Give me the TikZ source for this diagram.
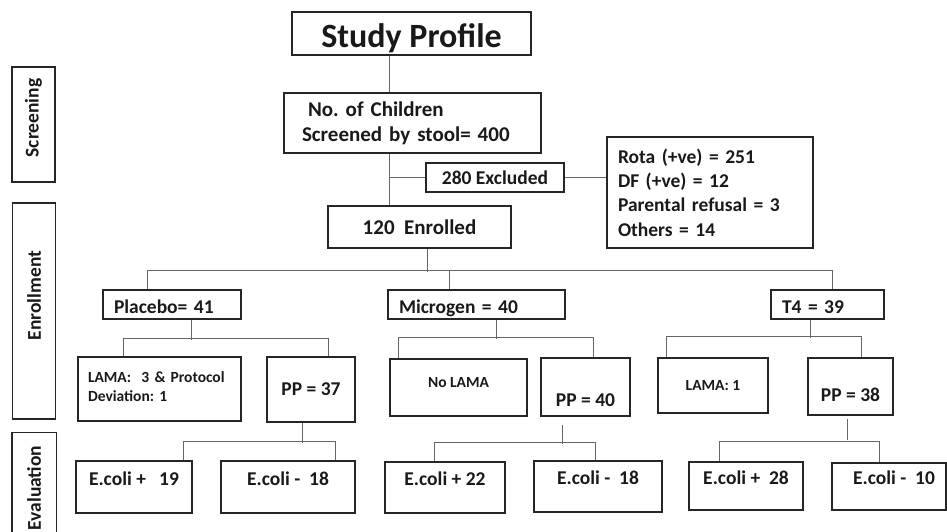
\documentclass[tikz,border=0pt]{standalone}
\usepackage{fontspec}
\setmainfont{Carlito}
\frenchspacing
\usetikzlibrary{positioning}

\begin{document}
\begin{tikzpicture}[
      x=1pt,y=-1pt,
      box/.style={
          draw=black!85,
          line width=1.3pt,
          inner sep=0pt,
          text=black!90,
          font=\fontsize{19.5}{24}\selectfont\bfseries
        },
      size/.style 2 args={
          minimum width=#1pt,
          minimum height=#2pt
        },
      small/.style={
          font=\fontsize{15.5}{19}\selectfont\bfseries
        },
      arm/.style={
          align=left,
          inner xsep=11pt,
          text height=17pt,
          text depth=0pt
        },
      ecoli/.style={
          box,
          text height=14pt,
          text depth=18pt
        },
      phase/.style={
          box,
          rotate=90,
          minimum height=43pt
        },
      link/.style={
          draw=black!60,
          line width=0.9pt
        }
    ]
    \useasboundingbox (0,0) rectangle (947,532);

    % phases on the left
    \node[phase, minimum width=115pt] (screen) at (33.5,124.5) {\hspace*{13pt}Screening};
    \node[phase, minimum width=216pt] (enrollment) at (34,311) {\hspace*{31pt}Enrollment};
    \node[phase, draw=none, minimum width=110pt] (evaluation) at (34,488) {Evaluation};
    \draw[black!85, line width=1.3pt] (evaluation.north west) -- (evaluation.north east)
      -- (evaluation.south east) -- (evaluation.south west);

    % screening
    \node[box, size={239}{43}, font=\fontsize{34}{40}\selectfont\bfseries,
      text height=29pt, text depth=0pt] (title) at (411.5,33.5) {Study Profile};
    \node[box, size={257}{60}, align=left, text width=221pt,
      font=\fontsize{21}{25}\selectfont\bfseries] (children) at (412.5,123)
      {\hspace*{6pt}No. of Children\\Screened by stool= 400};
    \node[box, size={138}{29}] (excl) at (495,177.5) {280 Excluded};
    \node[box, size={206}{111}, align=left, text width=184pt,
      font=\fontsize{19.5}{24.3}\selectfont\bfseries] (reasons) at (710,192.5)
      {Rota (+ve) = 251\\DF (+ve) = 12\\Parental refusal = 3\\Others = 14};
    \node[box, size={183}{42}, font=\fontsize{21}{25}\selectfont\bfseries] (enrol) at (419.5,227) {120 \ Enrolled};

    % enrollment
    \node[box, arm, size={138}{29}, text width=116pt] (placebo) at (172,304.5) {Placebo= 41};
    \node[box, arm, size={177}{29}, text width=155pt] (microgen) at (476.5,304.5) {Microgen = 40};
    \node[box, arm, size={113}{29}, text width=91pt] (tfour) at (827.5,304.5) {T4 = 39};

    \node[box, small, size={163}{64}, align=left, text width=143pt, inner xsep=10pt,
      text height=10pt, text depth=24pt] (lamaA) at (159.5,389) {LAMA:\ \ 3 \& Protocol\\Deviation: 1};
    \node[box, size={88}{65}] (ppA) at (311,389.5) {PP = 37};
    \node[box, small, size={137}{57}, text height=11pt, text depth=11pt] (nolama) at (458.5,387.5) {No LAMA};
    \node[box, size={89}{58}, text height=43pt, text depth=5pt] (ppB) at (585.5,387) {PP = 40};
    \node[box, small, size={110}{55}] (lamaC) at (713,385.5) {LAMA: 1};
    \node[box, size={85}{57}, text height=34pt, text depth=5pt] (ppC) at (850.5,386.5) {PP = 38};

    % evaluation
    \node[ecoli, size={116}{52}] (ecpA) at (134,487) {E.coli + \ \ 19};
    \node[ecoli, size={134}{52}] (ecmA) at (288,487) {E.coli - \ 18};
    \node[ecoli, size={120}{51}] (ecpB) at (445,487.5) {E.coli + 22};
    \node[ecoli, size={128}{51}] (ecmB) at (598,486.5) {E.coli - \ 18};
    \node[ecoli, size={114}{48}] (ecpC) at (746,486) {E.coli + \ 28};
    \node[ecoli, size={114}{47}] (ecmC) at (889,486.5) {\hspace*{10pt}E.coli - \ 10};

    % connectors
    \coordinate (trunk) at (389,0);
    \draw[link] (title.south -| trunk) -- (children.north -| trunk);
    \draw[link] (children.south -| trunk) -- (enrol.north -| trunk);
    \draw[link] (excl.west) -- (excl.west -| trunk);
    \draw[link] (excl.east) -- (excl.east -| reasons.west);

    \draw[link] ([xshift=7.5pt]enrol.south) -- ++(0,23);
    \draw[link] ([xshift=-25pt]placebo.north) -- ++(0,-19) -| ([xshift=4.5pt]tfour.north);
    \draw[link] ([xshift=-27.5pt]microgen.north) -- ++(0,-19);

    \draw[link] ([xshift=19pt]placebo.south) -- ++(0,20);
    \draw[link] ([xshift=-36.5pt]lamaA.north) -- ++(0,-18) -| ([xshift=17pt]ppA.north);
    \draw[link] ([xshift=-9pt]ppA.south) -- ++(0,20);
    \draw[link] ([xshift=49pt]ecpA.north) -- ++(0,-19) -| ([xshift=47pt]ecmA.north);

    \draw[link] ([xshift=19.5pt]microgen.south) -- ++(0,19);
    \draw[link] ([xshift=-60.5pt]nolama.north) -- ++(0,-21) -| ([xshift=7.5pt]ppB.north);
    \draw[link] ([xshift=-23.5pt,yshift=-8pt]ppB.south) -- ++(0,19);
    \draw[link] ([xshift=-11pt]ecpB.north) -- ++(0,-19) -| ([xshift=-3pt]ecmB.north);

    \draw[link] ([xshift=-17.5pt]tfour.south) -- ++(0,18);
    \draw[link] ([xshift=-47pt]lamaC.north) -- ++(0,-21) -| ([xshift=10.5pt]ppC.north);
    \draw[link] ([xshift=-3.5pt,yshift=-3pt]ppC.south) -- ++(0,21);
    \draw[link] ([xshift=-27pt]ecpC.north) -- ++(0,-20) -| ([xshift=-10pt]ecmC.north);
  \end{tikzpicture}
\end{document}
